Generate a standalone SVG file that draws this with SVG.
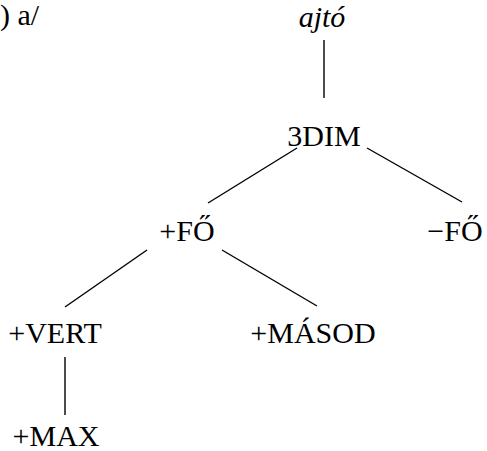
<svg xmlns="http://www.w3.org/2000/svg" width="487" height="451" viewBox="0 0 487 451">
<style>
text{text-anchor:middle}
.e line{stroke:#000;stroke-width:1.4;fill:none}
</style>
<rect width="487" height="451" fill="#fff"/>
<g font-family="Liberation Serif" font-size="30" fill="#000">
<text x="0" y="25" style="text-anchor:start">) a/</text>
<g id="ajto"><text font-style="italic" x="322" y="27">ajtó</text></g>
<g id="dim3"><text x="324" y="146">3DIM</text></g>
<g id="plusfo"><text x="187" y="241">+FŐ</text></g>
<g id="minusfo"><text x="455" y="241">−FŐ</text></g>
<g id="vert"><text x="55" y="343">+VERT</text></g>
<g id="masod"><text x="313" y="343">+MÁSOD</text></g>
<g id="max"><text x="56" y="446">+MAX</text></g>
</g>
<g class="e" id="connectors">
<line x1="324" y1="40" x2="324" y2="98"/>
<line x1="297" y1="148" x2="208" y2="203"/>
<line x1="367" y1="148" x2="462" y2="202"/>
<line x1="147" y1="250" x2="65" y2="307"/>
<line x1="222" y1="250" x2="317" y2="306"/>
<line x1="65" y1="357" x2="65" y2="415"/>
</g>
</svg>
